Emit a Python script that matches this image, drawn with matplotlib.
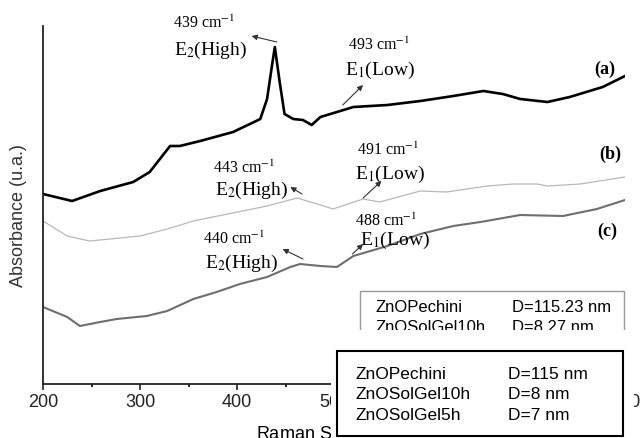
import matplotlib
matplotlib.use("Agg")
import matplotlib.pyplot as plt
from matplotlib.patches import Rectangle

plt.rcParams['mathtext.fontset'] = 'stix'

# Raman spectra, arbitrary intensity units
shift_a = [200, 230, 259, 293, 310, 331, 341, 362, 396, 424, 431, 436, 439, 444, 449,
           458, 468, 477, 486, 520, 555, 589, 623, 654, 674, 692, 720, 743, 777, 800]
int_a = [190, 183, 193, 202, 212, 238, 238, 243, 252, 265, 285, 318, 337, 302, 270,
         265, 264, 259, 267, 277, 279, 283, 288, 293, 290, 285, 282, 287, 297, 308]

shift_b = [200, 225, 248, 269, 300, 328, 355, 365, 431, 462, 486, 499, 530, 547, 589,
           616, 658, 685, 709, 720, 754, 800]
int_b = [163, 148, 143, 145, 148, 155, 163, 165, 178, 186, 179, 175, 185, 182, 193,
         192, 198, 200, 200, 198, 200, 207]

shift_c = [200, 225, 238, 259, 276, 307, 328, 355, 379, 403, 431, 455, 465, 486, 503,
           520, 555, 589, 623, 651, 692, 736, 771, 800]
int_c = [77, 67, 58, 62, 65, 68, 73, 85, 92, 100, 107, 117, 120, 118, 117,
         128, 138, 150, 158, 162, 169, 168, 175, 184]

tick_values = [200, 300, 400, 500, 600, 700, 800]
tick_labels = ["200", "300", "400", "500", "", "", "800"]  # 600/700 sit under the box

peak_labels = ["439 cm$^{-1}$", "493 cm$^{-1}$", "443 cm$^{-1}$",
               "491 cm$^{-1}$", "440 cm$^{-1}$", "488 cm$^{-1}$"]
mode_labels = ["E$_2$(High)", "E$_1$(Low)", "E$_2$(High)",
               "E$_1$(Low)", "E$_2$(High)", "E$_1$(Low)"]

old_names = ["ZnOPechini", "ZnOSolGel10h"]
old_sizes = ["D=115.23 nm", "D=8.27 nm"]
names = ["ZnOPechini", "ZnOSolGel10h", "ZnOSolGel5h"]
sizes = ["D=115 nm", "D=8 nm", "D=7 nm"]

W, H = 641, 439
fig = plt.figure(figsize=(W / 100, H / 100), dpi=100)
ax = fig.add_axes([43 / W, (H - 385) / H, 582 / W, 358 / H])

ax.plot(shift_a, int_a, color='black', lw=1.9)
ax.plot(shift_b, int_b, color='#b8b8b8', lw=0.9)
ax.plot(shift_c, int_c, color='#6e6e6e', lw=1.5)

ax.set_xlim(200, 800)
ax.set_ylim(0, 358)
ax.spines['top'].set_visible(False)
ax.spines['right'].set_visible(False)
for s in ['left', 'bottom']:
    ax.spines[s].set_linewidth(1.3)
    ax.spines[s].set_color('#222222')
ax.set_yticks([])
ax.set_xticks(tick_values, tick_labels)
ax.set_xticks([250, 350, 450, 550, 650, 750], minor=True)
ax.tick_params(axis='x', which='major', direction='out', length=4.5, width=1.2,
               pad=2, labelsize=13, colors='#222222')
ax.tick_params(axis='x', which='minor', direction='out', length=2.5, width=1.2)
for t in ax.get_xticklabels():
    t.set_family('Liberation Sans')

ax.set_xlabel("Raman Shift (cm$^{-1}$)", fontsize=13, family='Liberation Sans')
ax.xaxis.set_label_coords(0.5, -0.108)
ax.set_ylabel("Absorbance (u.a.)", fontsize=13, family='Liberation Sans', color='#333333')
ax.yaxis.set_label_coords(-0.028, 0.472)

# peak annotations: text centres and arrow (tail -> head)
text_pos = [(366, 362), (546, 340), (407, 217), (556, 235), (397, 146), (554, 164)]
mode_pos = [(373, 335), (547, 315), (415, 195), (558, 211), (405, 122), (563, 145)]
arrows = [((441, 342), (415, 348)), ((509, 279), (530, 299)), ((467, 190), (455, 197)),
          ((530, 186), (549, 203)), ((468, 125), (447, 135)), ((519, 130), (530, 140))]

for lab, pos in zip(peak_labels, text_pos):
    ax.text(pos[0], pos[1], lab, fontsize=11.5, family='Liberation Serif',
            ha='center', va='center', clip_on=False)
for lab, pos in zip(mode_labels, mode_pos):
    ax.text(pos[0], pos[1], lab, fontsize=14, family='Liberation Serif',
            ha='center', va='center', clip_on=False)
for tail, head in arrows:
    ax.annotate('', xy=head, xytext=tail,
                arrowprops=dict(arrowstyle='-|>', color='#333333', lw=0.8,
                                mutation_scale=8, shrinkA=0, shrinkB=0))

for lab, pos in zip(["(a)", "(b)", "(c)"], [(779, 316), (785, 231), (782, 154)]):
    ax.text(pos[0], pos[1], lab, fontsize=13, family='Liberation Serif',
            fontweight='bold', ha='center', va='center')


def fx(px):
    return px / W


def fy(py):
    return 1 - py / H


# old legend box, partly hidden
fig.add_artist(Rectangle((fx(360), fy(350)), fx(624) - fx(360), fy(292) - fy(350),
                         transform=fig.transFigure, fc='white', ec='#9a9a9a', lw=1, zorder=2))
for i, (n, d) in enumerate(zip(old_names, old_sizes)):
    fig.text(fx(375), fy(308 + 20 * i), n, fontsize=12, family='Liberation Sans',
             va='center', zorder=3)
    fig.text(fx(512), fy(308 + 20 * i), d, fontsize=12, family='Liberation Sans',
             va='center', zorder=3)

# white patch covering the lower right
fig.add_artist(Rectangle((fx(331), 0), fx(634) - fx(331), fy(331),
                         transform=fig.transFigure, fc='white', ec='none', zorder=4))

# new legend box
fig.add_artist(Rectangle((fx(337), fy(437)), fx(623) - fx(337), fy(352) - fy(437),
                         transform=fig.transFigure, fc='white', ec='black', lw=1.5, zorder=5))
for i, (n, d) in enumerate(zip(names, sizes)):
    fig.text(fx(356), fy(375 + 20 * i), n, fontsize=12.5, family='Liberation Sans',
             va='center', zorder=6)
    fig.text(fx(508), fy(375 + 20 * i), d, fontsize=12.5, family='Liberation Sans',
             va='center', zorder=6)

fig.savefig("out.png", dpi=100)
